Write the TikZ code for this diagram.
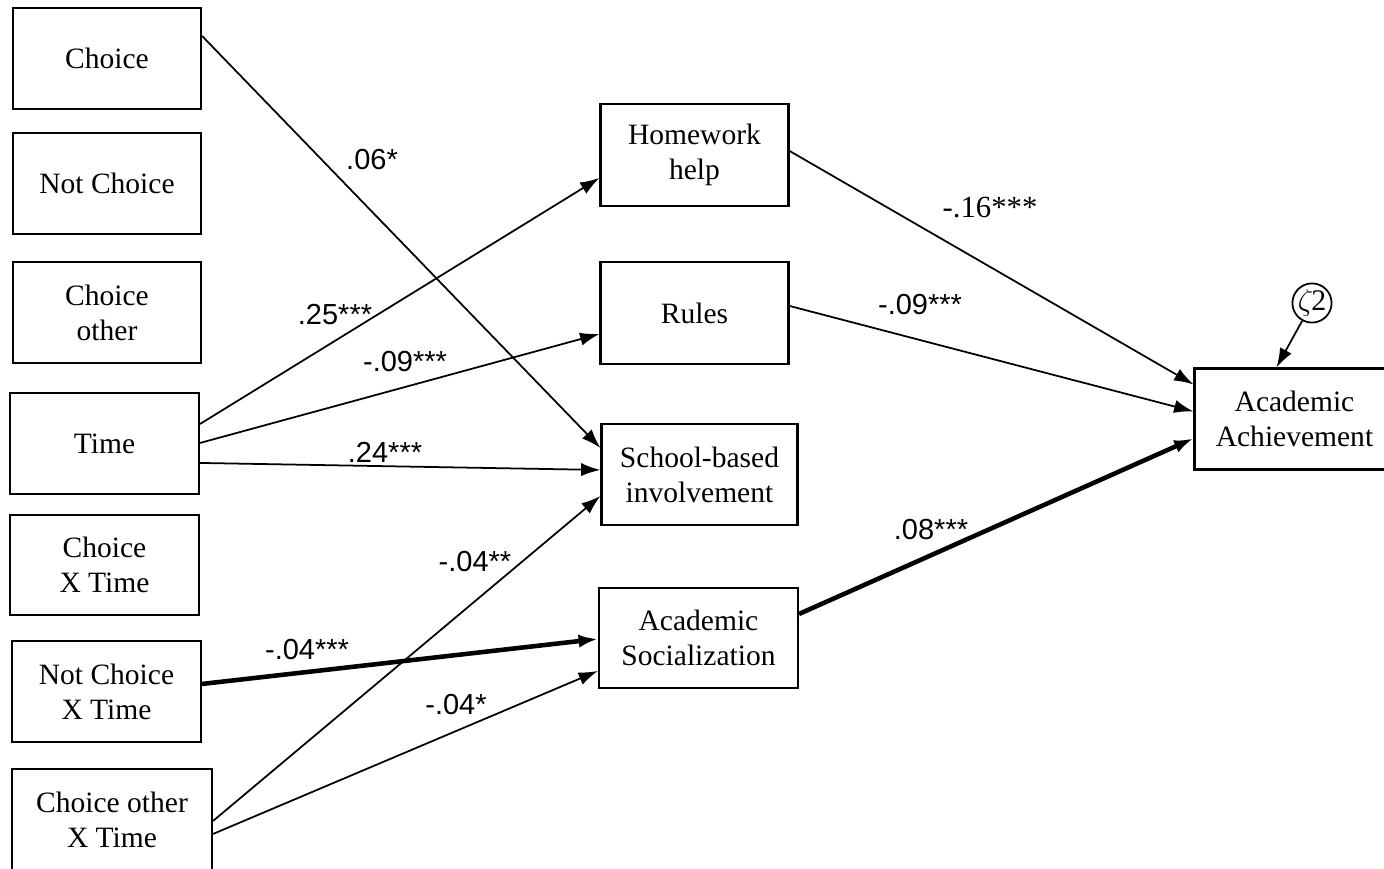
\documentclass[tikz,border=0pt]{standalone}
\usepackage{fontspec}
\setmainfont{Liberation Serif}
\newfontfamily\lblfont{Liberation Sans}
\usetikzlibrary{arrows.meta,calc}
\begin{document}
\begin{tikzpicture}[x=0.02cm,y=-0.02cm,
  box/.style={draw,line width=1.2pt,align=center,inner sep=0pt,font=\fontsize{16.8}{20}\selectfont},
  bsize/.style 2 args={minimum width=#1*0.02cm,minimum height=#2*0.02cm},
  conn/.style={line width=1pt,-{Latex[length=11pt,width=7.5pt]}},
  boldconn/.style={line width=2.6pt,-{Latex[length=11pt,width=7.5pt]}},
  lbl/.style={font=\lblfont\fontsize{16.5}{19}\selectfont,inner sep=0pt},
  slbl/.style={font=\fontsize{17.5}{19}\selectfont,inner sep=0pt}]
\useasboundingbox (0,0) rectangle (1384,869);
\clip (0,0) rectangle (1384,869);
\fill[white] (0,0) rectangle (1384,869);
% left column
\node[box,bsize={188}{101}] (choice) at (107,58.5) {Choice};
\node[box,bsize={188}{101}] (notchoice) at (107,183.5) {Not Choice};
\node[box,bsize={188}{101}] (choiceother) at (107,312.5) {Choice\\other};
\node[box,bsize={189}{101}] (time) at (104.5,443.5) {Time};
\node[box,bsize={189}{100}] (cxt) at (104.5,565) {Choice\\X Time};
\node[box,bsize={189}{101}] (ncxt) at (106.5,691.5) {Not Choice\\X Time};
\node[box,bsize={200}{101}] (coxt) at (112,819.5) {Choice other\\X Time};
% middle column
\node[box,bsize={188}{102}] (hw) at (694.5,155) {Homework\\help};
\node[box,bsize={188}{102}] (rules) at (694.5,313) {Rules};
\node[box,bsize={196}{101}] (school) at (699.5,474.5) {School-based\\involvement};
\node[box,bsize={199}{100}] (asoc) at (698.5,638) {Academic\\Socialization};
% outcome
\node[box,bsize={200}{101}] (ach) at (1294.5,419) {Academic\\Achievement};
\node[draw,circle,line width=1pt,minimum size=0.76cm,inner sep=0pt,font=\fontsize{17}{18}\selectfont] (zeta) at (1312,303) {$\zeta$\kern-1pt2};
% connectors
\draw[conn] ($(choice.north east)+(0,29)$) -- ($(school.north west)+(0,25)$);
\draw[conn] ($(time.north east)+(0,32)$) -- ($(hw.north west)+(0,75)$);
\draw[conn] ($(time.north east)+(0,51)$) -- ($(rules.north west)+(0,73)$);
\draw[conn] ($(time.north east)+(0,71)$) -- ($(school.north west)+(0,47)$);
\draw[conn] ($(coxt.north east)+(0,53)$) -- ($(school.north west)+(0,73)$);
\draw[boldconn] ($(ncxt.north east)+(0,44)$) -- ($(asoc.north west)+(0,52)$);
\draw[conn] ($(coxt.north east)+(0,66)$) -- ($(asoc.north west)+(0,84)$);
\draw[conn] ($(hw.north east)+(0,48)$) -- ($(ach.north west)+(0,17)$);
\draw[conn] ($(rules.north east)+(0,45)$) -- ($(ach.north west)+(0,44)$);
\draw[boldconn] ($(asoc.north east)+(0,27)$) -- ($(ach.north west)+(0,71)$);
\draw[conn] (zeta) -- ($(ach.north west)+(83,0)$);
% labels
\node[lbl] (l1) at (372,160) {.06*};
\node[lbl] (l2) at (335,315) {.25***};
\node[lbl] (l3) at (405,362) {-.09***};
\node[lbl] (l4) at (385,452) {.24***};
\node[lbl] (l5) at (475,562) {-.04**};
\node[lbl] (l6) at (307,650) {-.04***};
\node[lbl] (l7) at (456,705) {-.04*};
\node[slbl] (l8) at (990,208) {-.16***};
\node[lbl] (l9) at (920,305) {-.09***};
\node[lbl] (l10) at (931,530) {.08***};
\end{tikzpicture}
\end{document}
